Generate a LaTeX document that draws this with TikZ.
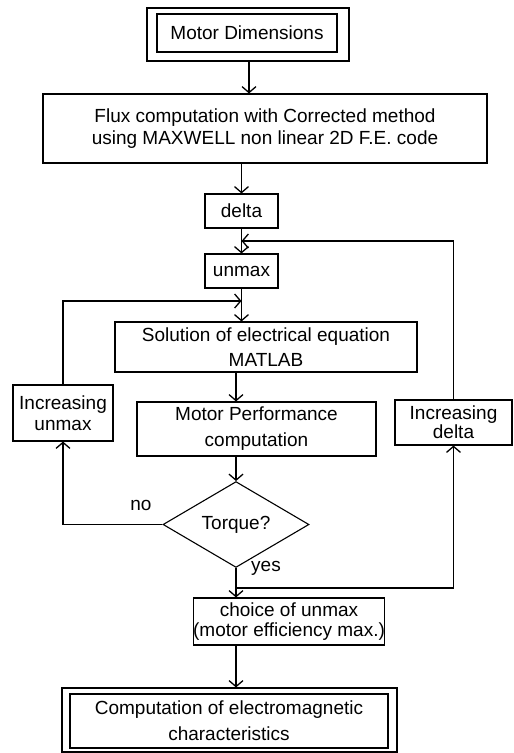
\documentclass[tikz,border=0pt]{standalone}
\usepackage{fontspec}
\setmainfont{Liberation Sans}
\usepackage{tikz}
\usetikzlibrary{positioning,arrows.meta,shapes.geometric,calc}
\tikzset{
  box/.style     ={rectangle,draw=black,line width=1.1pt,align=center,inner sep=0pt,
                   font=\fontsize{19}{23}\selectfont},
  frame/.style   ={rectangle,draw=black,line width=1.1pt,inner sep=0pt},
  decision/.style={diamond,draw=black,line width=1.1pt,inner sep=0pt,
                   font=\fontsize{19}{23}\selectfont},
  lbl/.style     ={inner sep=0pt,font=\fontsize{19}{23}\selectfont},
  flow/.style    ={-{Straight Barb[length=6pt,width=14pt,line width=1.3pt]},line width=1.1pt,draw=black},
}
\begin{document}
\begin{tikzpicture}[x=1pt,y=-1pt]
  \useasboundingbox (0,0) rectangle (514,753);
  % main column
  \node[frame,minimum width=202,minimum height=53] (dimsout) at (248,34.5) {};
  \node[box,minimum width=180,minimum height=38] (dims) at (247,33) {Motor Dimensions};
  \node[box,minimum width=444,minimum height=69,font=\fontsize{19}{22}\selectfont] (flux) at (265,128.5)
    {Flux computation with Corrected method\\using MAXWELL non linear 2D F.E. code};
  \node[box,minimum width=73,minimum height=34] (delta) at (241.5,211) {delta};
  \node[box,minimum width=73,minimum height=34] (unmax) at (241.5,271) {unmax};
  \node[box,minimum width=302,minimum height=50,font=\fontsize{19}{25}\selectfont] (solution) at (266,347)
    {Solution of electrical equation\\MATLAB};
  \node[box,minimum width=239,minimum height=54,font=\fontsize{19}{26}\selectfont] (perf) at (256.5,429)
    {Motor Performance\\computation};
  \node[decision,minimum width=146,minimum height=65] (torque) at (236,524.5) {Torque?};
  \node[box,minimum width=182,minimum height=47,font=\fontsize{19}{20}\selectfont] (choice) at (289,621.5)
    {choice of unmax\\(motor efficiency max.)};
  \node[frame,minimum width=335,minimum height=64] (compout) at (229.5,720) {};
  \node[box,minimum width=318,minimum height=54,font=\fontsize{19}{26}\selectfont] (comp) at (229,721)
    {Computation of electromagnetic\\characteristics};
  % loop boxes
  \node[box,minimum width=100,minimum height=56,font=\fontsize{19}{21}\selectfont] (incu) at (63,413)
    {Increasing\\unmax};
  \node[box,minimum width=117,minimum height=45,font=\fontsize{19}{16}\selectfont] (incd) at (453.5,422.5)
    {Increasing\\delta};
  \node[lbl] (no) at (141,505) {no};
  \node[lbl] (yes) at (266,568) {yes};
  % junctions
  \coordinate (jr) at (241.5,241);
  \coordinate (jl) at (241.5,301);
  \coordinate (jy) at (236,588);
  % connectors
  \draw[flow] (dimsout.south -| 249,0) -- (flux.north -| 249,0);
  \draw[flow] (flux.south -| delta.north) -- (delta.north);
  \draw[flow] (delta) -- (unmax);
  \draw[flow] (unmax.south) -- (unmax.south |- solution.north);
  \draw[flow] (solution.south -| torque.north) -- (perf.north -| torque.north);
  \draw[flow] (perf.south -| torque.north) -- (torque.north);
  \draw[flow] (torque.south) -- (torque.south |- choice.north);
  \draw[flow] (choice.south -| torque.south) -- (compout.north -| torque.south);
  \draw[flow] (torque.west) -| (incu.south);
  \draw[flow] (incu.north) |- (jl);
  \draw[flow] (jy) -| (incd.south);
  \draw[flow] (incd.north) |- (jr);
\end{tikzpicture}
\end{document}
